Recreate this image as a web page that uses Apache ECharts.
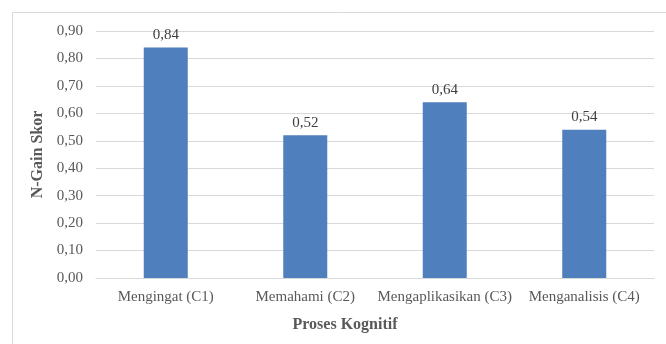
<!DOCTYPE html>
<html>
<head>
<meta charset="utf-8">
<script src="https://cdn.jsdelivr.net/npm/echarts@6/dist/echarts.min.js"></script>
<style>html,body{margin:0;padding:0;background:#fff}#c{width:666px;height:344px}</style>
</head>
<body>
<div id="c"></div>
<script>
var categories = ['Mengingat (C1)', 'Memahami (C2)', 'Mengaplikasikan (C3)', 'Menganalisis (C4)'];
var values = [0.84, 0.52, 0.64, 0.54];
var yTitle = 'N-Gain Skor';
var xTitle = 'Proses Kognitif';

var fmt = function (v) { return Number(v).toFixed(2).replace('.', ','); };
var chart = echarts.init(document.getElementById('c'));
var font = '"Liberation Serif", "Times New Roman", serif';
chart.setOption({
  animation: false,
  textStyle: { fontFamily: font },
  graphic: [{
    type: 'polyline',
    shape: { points: [[12.5, 344], [12.5, 12.5], [666, 12.5]] },
    style: { stroke: '#d9d9d9', lineWidth: 1, fill: null },
    silent: true
  }, {
    type: 'text',
    x: 345, y: 325,
    style: { text: xTitle, font: 'bold 16px ' + font, fill: '#595959', align: 'center', verticalAlign: 'middle' }
  }],
  grid: { left: 96, right: 12, top: 31, bottom: 66 },
  xAxis: {
    type: 'category',
    data: categories,
    axisTick: { show: false },
    axisLine: { lineStyle: { color: '#d9d9d9' } },
    axisLabel: { color: '#595959', fontSize: 15, margin: 12, fontFamily: font, interval: 0 }
  },
  yAxis: {
    type: 'value',
    min: 0, max: 0.9, interval: 0.1,
    name: yTitle,
    nameLocation: 'middle',
    nameGap: 50,
    nameTextStyle: { color: '#595959', fontSize: 16, fontWeight: 'bold', fontFamily: font },
    axisLine: { show: false },
    axisTick: { show: false },
    splitLine: { lineStyle: { color: '#d9d9d9', width: 1 } },
    axisLabel: { color: '#595959', fontSize: 15, margin: 13, fontFamily: font, formatter: fmt }
  },
  series: [{
    type: 'bar',
    data: values,
    barWidth: 44,
    itemStyle: { color: '#4F7FBD' },
    label: {
      show: true, position: 'top', distance: 5,
      color: '#404040', fontSize: 15, fontFamily: font,
      formatter: function (p) { return fmt(p.value); }
    }
  }]
});
</script>
</body>
</html>
